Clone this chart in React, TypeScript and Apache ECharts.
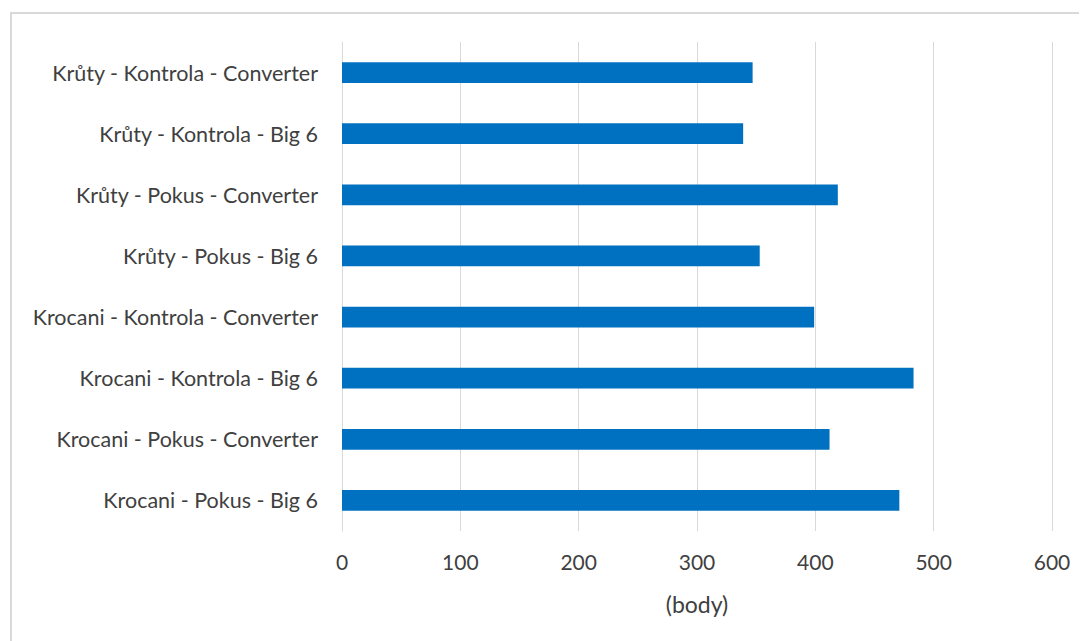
import React, { useEffect, useRef } from "react";
import * as echarts from "echarts";

const categories = [
  "Krůty - Kontrola - Converter",
  "Krůty - Kontrola - Big 6",
  "Krůty - Pokus - Converter",
  "Krůty - Pokus - Big 6",
  "Krocani - Kontrola - Converter",
  "Krocani - Kontrola - Big 6",
  "Krocani - Pokus - Converter",
  "Krocani - Pokus - Big 6",
];
const values = [347, 339, 419, 353, 399, 483, 412, 471];
const axisName = "(body)";

export default function App() {
  const ref = useRef<HTMLDivElement>(null);
  useEffect(() => {
    if (!ref.current) return;
    const chart = echarts.init(ref.current, undefined, { renderer: "svg" });
    const font = "Lato, 'Open Sans', sans-serif";
    chart.setOption({
      animation: false,
      graphic: [
        {
          type: "rect",
          shape: { x: 3, y: 5, width: 1200, height: 800 },
          style: { fill: "none", stroke: "#d9d9d9", lineWidth: 2 },
          silent: true,
        },
      ],
      grid: {
        left: 334,
        right: 35,
        top: 34,
        bottom: 110,
        outerBoundsMode: "none",
      },
      xAxis: {
        type: "value",
        min: 0,
        max: 600,
        interval: 100,
        name: axisName,
        nameLocation: "middle",
        nameGap: 61,
        nameTextStyle: { color: "#404040", fontSize: 23, fontFamily: font },
        axisLine: { show: false },
        axisTick: { show: false },
        axisLabel: { color: "#404040", fontSize: 21, fontFamily: font, margin: 20 },
        splitLine: { show: true, lineStyle: { color: "#d9d9d9", width: 1 } },
      },
      yAxis: {
        type: "category",
        data: categories,
        inverse: true,
        axisLine: { show: true, lineStyle: { color: "#d9d9d9", width: 1 } },
        axisTick: { show: false },
        axisLabel: { color: "#404040", fontSize: 21.5, fontFamily: font, margin: 24 },
      },
      series: [
        {
          type: "bar",
          data: values,
          barWidth: "34%",
          itemStyle: { color: "#0070C0" },
        },
      ],
    });
    return () => chart.dispose();
  }, []);
  return <div ref={ref} style={{ width: 1079, height: 633 }} />;
}
